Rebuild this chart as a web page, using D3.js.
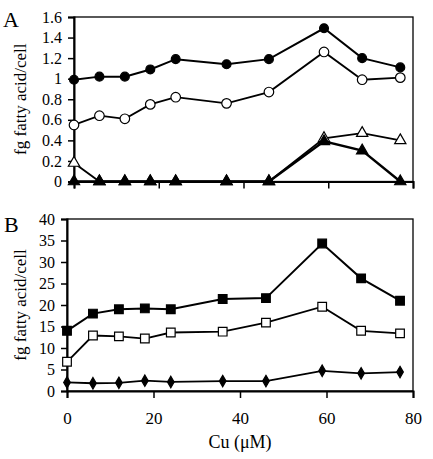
<!DOCTYPE html>
<html><head><meta charset="utf-8">
<script src="https://cdn.jsdelivr.net/npm/d3@7"></script>
<style>body{margin:0;background:#fff}</style>
</head><body>
<svg id="c" width="433" height="459"></svg>
<script>
const cu = [0, 6, 12, 18, 24, 36, 46, 59, 68, 77];
// Panel A
const aFilledCircle = [0.99, 1.02, 1.02, 1.09, 1.19, 1.14, 1.19, 1.49, 1.20, 1.11];
const aOpenCircle   = [0.55, 0.64, 0.61, 0.75, 0.82, 0.76, 0.87, 1.26, 0.99, 1.01];
const aOpenTri      = [0.18, 0, 0, 0, 0, 0, 0, 0.42, 0.47, 0.40];
const aFilledTri    = [0, 0, 0, 0, 0, 0, 0, 0.39, 0.30, 0];
const aTicks = [0, 0.2, 0.4, 0.6, 0.8, 1, 1.2, 1.4, 1.6];
// Panel B
const bFilledSq = [14.0, 18.0, 19.0, 19.2, 19.0, 21.4, 21.6, 34.3, 26.2, 21.0];
const bOpenSq   = [6.8, 12.9, 12.7, 12.2, 13.6, 13.8, 15.9, 19.6, 14.0, 13.4];
const bDiamond  = [2.0, 1.8, 1.9, 2.4, 2.1, 2.3, 2.3, 4.7, 4.1, 4.4];
const bTicks = [0, 5, 10, 15, 20, 25, 30, 35, 40];
const xTicks = [0, 20, 40, 60, 80];

const svg = d3.select("#c");
const font = "'Liberation Serif','Times New Roman',serif";

function panel(cfg) {
  const x = d3.scaleLinear().domain([0, 80]).range([cfg.left, 413]);
  const y = d3.scaleLinear().domain(cfg.ydom).range([cfg.bottom, cfg.top]);
  const g = svg.append("g");
  g.append("rect").attr("x", cfg.left).attr("y", cfg.top)
    .attr("width", 413 - cfg.left).attr("height", cfg.bottom - cfg.top)
    .attr("fill", "none").attr("stroke", "#000").attr("stroke-width", 1.3);
  const ya = d3.axisLeft(y).tickValues(cfg.yticks).tickSize(6).tickPadding(6)
    .tickFormat(d => String(d));
  const yg = g.append("g").attr("transform", `translate(${cfg.left},0)`).call(ya);
  const xa = d3.axisBottom(x).tickValues(xTicks).tickSize(7).tickPadding(14)
    .tickFormat(cfg.xlabels ? d => String(d) : () => "");
  const xg = g.append("g").attr("transform", `translate(0,${cfg.bottom})`).call(xa);
  [yg, xg].forEach(a => {
    a.select(".domain").attr("stroke-width", 2);
    a.selectAll(".tick line").attr("stroke-width", 1.5);
    a.selectAll("text").attr("font-family", font).attr("fill", "#000");
  });
  yg.selectAll("text").attr("font-size", 16);
  xg.selectAll("text").attr("font-size", 17);
  g.append("text").attr("transform", `translate(26,${(cfg.top + cfg.bottom) / 2}) rotate(-90)`)
    .attr("text-anchor", "middle").attr("font-family", font).attr("font-size", 17)
    .text("fg fatty acid/cell");
  g.append("text").attr("x", cfg.letterX).attr("y", cfg.letterY).attr("font-family", font)
    .attr("font-size", 22).text(cfg.letter);
  const line = d3.line().x((d, i) => x(cu[i])).y(d => y(d));
  cfg.series.forEach(s => {
    g.append("path").datum(s.values).attr("d", line).attr("fill", "none")
      .attr("stroke", "#000").attr("stroke-width", s.lw || 2);
  });
  cfg.series.forEach(s => {
    const sym = d3.symbol().type(s.type).size(s.size);
    g.selectAll(null).data(s.values).enter().append("path")
      .attr("d", sym)
      .attr("transform", (d, i) => `translate(${x(cu[i])},${y(d)})`)
      .attr("fill", s.fill).attr("stroke", "#000").attr("stroke-width", 1.2);
  });
  return { x, y };
}

panel({
  left: 74, top: 17, bottom: 181.5, ydom: [0, 1.6], yticks: aTicks, xlabels: false,
  letter: "A", letterX: 3, letterY: 27,
  series: [
    { values: aOpenTri, type: d3.symbolTriangle, size: 55, fill: "#fff", lw: 1.8 },
    { values: aFilledTri, type: d3.symbolTriangle, size: 55, fill: "#000", lw: 2.4 },
    { values: aOpenCircle, type: d3.symbolCircle, size: 72, fill: "#fff", lw: 1.8 },
    { values: aFilledCircle, type: d3.symbolCircle, size: 62, fill: "#000", lw: 2 }
  ]
});

panel({
  left: 67, top: 219, bottom: 391, ydom: [0, 40], yticks: bTicks, xlabels: true,
  letter: "B", letterX: 4, letterY: 232,
  series: [
    { values: bDiamond, type: d3.symbolDiamond, size: 38, fill: "#000", lw: 1.8 },
    { values: bOpenSq, type: d3.symbolSquare, size: 75, fill: "#fff", lw: 1.8 },
    { values: bFilledSq, type: d3.symbolSquare, size: 75, fill: "#000", lw: 2 }
  ]
});

svg.append("text").attr("x", 240).attr("y", 448).attr("text-anchor", "middle")
  .attr("font-family", font).attr("font-size", 18).text("Cu (\u03bcM)");
</script>
</body></html>
